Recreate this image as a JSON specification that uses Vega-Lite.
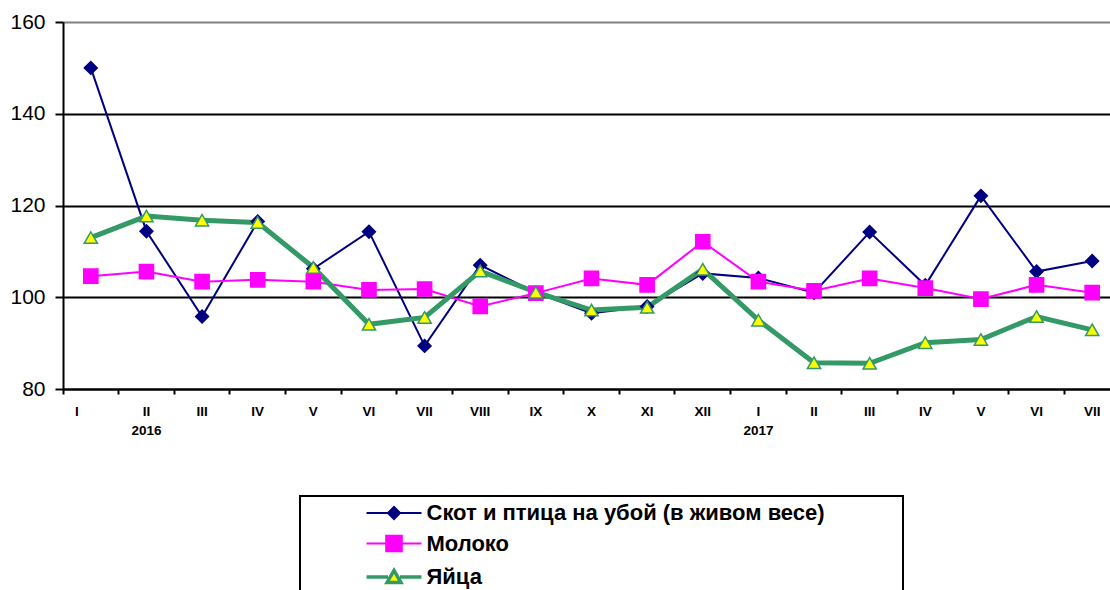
{
  "$schema": "https://vega.github.io/schema/vega-lite/v6.json",
  "width": 1047,
  "height": 367,
  "autosize": {"type": "none"},
  "padding": {"left": 63, "top": 22, "right": 0, "bottom": 201},
  "background": "white",
  "config": {"view": {"stroke": null}, "font": "Liberation Sans", "legend": {"strokeWidth": 2}},
  "data": {"values": [
    {"m": "2016-I", "s": "Скот и птица на убой (в живом весе)", "v": 150.0},
    {"m": "2016-II", "s": "Скот и птица на убой (в живом весе)", "v": 114.4},
    {"m": "2016-III", "s": "Скот и птица на убой (в живом весе)", "v": 95.8},
    {"m": "2016-IV", "s": "Скот и птица на убой (в живом весе)", "v": 116.5},
    {"m": "2016-V", "s": "Скот и птица на убой (в живом весе)", "v": 106.2},
    {"m": "2016-VI", "s": "Скот и птица на убой (в живом весе)", "v": 114.3},
    {"m": "2016-VII", "s": "Скот и птица на убой (в живом весе)", "v": 89.4},
    {"m": "2016-VIII", "s": "Скот и птица на убой (в живом весе)", "v": 107.0},
    {"m": "2016-IX", "s": "Скот и птица на убой (в живом весе)", "v": 101.0},
    {"m": "2016-X", "s": "Скот и птица на убой (в живом весе)", "v": 96.5},
    {"m": "2016-XI", "s": "Скот и птица на убой (в живом весе)", "v": 98.0},
    {"m": "2016-XII", "s": "Скот и птица на убой (в живом весе)", "v": 105.2},
    {"m": "2017-I", "s": "Скот и птица на убой (в живом весе)", "v": 104.2},
    {"m": "2017-II", "s": "Скот и птица на убой (в живом весе)", "v": 101.0},
    {"m": "2017-III", "s": "Скот и птица на убой (в живом весе)", "v": 114.2},
    {"m": "2017-IV", "s": "Скот и птица на убой (в живом весе)", "v": 102.6},
    {"m": "2017-V", "s": "Скот и птица на убой (в живом весе)", "v": 122.1},
    {"m": "2017-VI", "s": "Скот и птица на убой (в живом весе)", "v": 105.6},
    {"m": "2017-VII", "s": "Скот и птица на убой (в живом весе)", "v": 107.9},
    {"m": "2016-I", "s": "Молоко", "v": 104.6},
    {"m": "2016-II", "s": "Молоко", "v": 105.6},
    {"m": "2016-III", "s": "Молоко", "v": 103.4},
    {"m": "2016-IV", "s": "Молоко", "v": 103.8},
    {"m": "2016-V", "s": "Молоко", "v": 103.4},
    {"m": "2016-VI", "s": "Молоко", "v": 101.6},
    {"m": "2016-VII", "s": "Молоко", "v": 101.8},
    {"m": "2016-VIII", "s": "Молоко", "v": 98.0},
    {"m": "2016-IX", "s": "Молоко", "v": 100.9},
    {"m": "2016-X", "s": "Молоко", "v": 104.1},
    {"m": "2016-XI", "s": "Молоко", "v": 102.7},
    {"m": "2016-XII", "s": "Молоко", "v": 112.1},
    {"m": "2017-I", "s": "Молоко", "v": 103.4},
    {"m": "2017-II", "s": "Молоко", "v": 101.4},
    {"m": "2017-III", "s": "Молоко", "v": 104.1},
    {"m": "2017-IV", "s": "Молоко", "v": 102.0},
    {"m": "2017-V", "s": "Молоко", "v": 99.6},
    {"m": "2017-VI", "s": "Молоко", "v": 102.7},
    {"m": "2017-VII", "s": "Молоко", "v": 101.0},
    {"m": "2016-I", "s": "Яйца", "v": 113.0},
    {"m": "2016-II", "s": "Яйца", "v": 117.7},
    {"m": "2016-III", "s": "Яйца", "v": 116.8},
    {"m": "2016-IV", "s": "Яйца", "v": 116.3},
    {"m": "2016-V", "s": "Яйца", "v": 106.5},
    {"m": "2016-VI", "s": "Яйца", "v": 94.1},
    {"m": "2016-VII", "s": "Яйца", "v": 95.6},
    {"m": "2016-VIII", "s": "Яйца", "v": 105.7},
    {"m": "2016-IX", "s": "Яйца", "v": 101.1},
    {"m": "2016-X", "s": "Яйца", "v": 97.2},
    {"m": "2016-XI", "s": "Яйца", "v": 97.8},
    {"m": "2016-XII", "s": "Яйца", "v": 106.1},
    {"m": "2017-I", "s": "Яйца", "v": 95.0},
    {"m": "2017-II", "s": "Яйца", "v": 85.7},
    {"m": "2017-III", "s": "Яйца", "v": 85.6},
    {"m": "2017-IV", "s": "Яйца", "v": 90.1},
    {"m": "2017-V", "s": "Яйца", "v": 90.8},
    {"m": "2017-VI", "s": "Яйца", "v": 95.8},
    {"m": "2017-VII", "s": "Яйца", "v": 92.9}
  ]},
  "encoding": {
    "x": {
      "field": "m",
      "type": "nominal",
      "scale": {
        "type": "band",
        "domain": ["2016-I","2016-II","2016-III","2016-IV","2016-V","2016-VI","2016-VII","2016-VIII","2016-IX","2016-X","2016-XI","2016-XII","2017-I","2017-II","2017-III","2017-IV","2017-V","2017-VI","2017-VII"],
        "range": [0, 1057],
        "paddingInner": 0,
        "paddingOuter": 0
      },
      "axis": {
        "title": null,
        "bandPosition": 0,
        "labelExpr": "datum.value === '2016-II' ? ['II', '2016'] : datum.value === '2017-I' ? ['I', '2017'] : split(datum.value, '-')[1]",
        "labelFont": "Liberation Sans",
        "labelFontSize": 13.5,
        "labelFontWeight": "bold",
        "labelColor": "black",
        "labelAngle": 0,
        "labelPadding": 10,
        "labelLineHeight": 19,
        "labelOffset": {"condition": {"test": "datum.value === '2016-I'", "value": -14}, "value": 0},
        "labelOverlap": false,
        "labelBound": false,
        "tickColor": "black",
        "tickWidth": 2,
        "tickSize": 5,
        "domainColor": "black",
        "domainWidth": 2,
        "grid": false
      }
    },
    "y": {
      "field": "v",
      "type": "quantitative",
      "scale": {"domain": [80, 160], "nice": false, "zero": false},
      "axis": {
        "title": null,
        "values": [80, 100, 120, 140, 160],
        "labelFont": "Liberation Sans",
        "labelFontSize": 21,
        "labelColor": "black",
        "labelPadding": 10,
        "tickColor": "black",
        "tickWidth": 2,
        "tickSize": 8,
        "domainColor": "black",
        "domainWidth": 2,
        "grid": true,
        "gridColor": {"condition": {"test": "datum.value === 160", "value": "#808080"}, "value": "black"},
        "gridWidth": 2
      }
    },
    "stroke": {
      "field": "s",
      "type": "nominal",
      "scale": {
        "domain": ["Скот и птица на убой (в живом весе)", "Молоко", "Яйца"],
        "range": ["#000080", "#FF00FF", "#339966"]
      },
      "legend": {
        "orient": "none",
        "legendX": 237,
        "legendY": 474,
        "title": null,
        "strokeColor": "black",
        "fillColor": "white",
        "padding": 6,
        "symbolSize": 144,
        "symbolOffset": 77,
        "labelOffset": 21.5,
        "labelFont": "Liberation Sans",
        "labelFontSize": 22,
        "labelFontWeight": "bold",
        "labelColor": "black",
        "labelLimit": 2000,
        "rowPadding": 7.5,
        "symbolOpacity": 1,
        "symbolType": {"expr": "datum.value === 'Молоко' ? 'M-4.58,0H4.58M-1.3,-1.3H1.3V1.3H-1.3ZM82.6,0' : datum.value === 'Яйца' ? 'M-4.58,0H-1M1,0H4.58M0,-1.1L1.15,0.9H-1.15ZM82.6,0' : 'M-4.58,0H4.58M-1,0L0,-1L1,0L0,1ZM82.6,0'"},
        "symbolFillColor": {"expr": "datum.value === 'Молоко' ? '#FF00FF' : datum.value === 'Яйца' ? '#FFFF00' : '#000080'"},
        "symbolStrokeWidth": {"expr": "datum.value === 'Яйца' ? 3.5 : 2"}
      }
    }
  },
  "layer": [
    {
      "mark": {"type": "line"},
      "encoding": {
        "strokeWidth": {"condition": {"test": "datum.s === 'Яйца'", "value": 5}, "value": 2}
      }
    },
    {
      "mark": {"type": "point", "filled": true, "opacity": 1, "strokeWidth": 1.5},
      "encoding": {
        "shape": {
          "condition": [
            {"test": "datum.s === 'Молоко'", "value": "square"},
            {"test": "datum.s === 'Яйца'", "value": "triangle-up"}
          ],
          "value": "diamond"
        },
        "fill": {
          "field": "s",
          "type": "nominal",
          "scale": {
            "domain": ["Молоко", "Скот и птица на убой (в живом весе)", "Яйца"],
            "range": ["#FF00FF", "#000080", "#FFFF00"]
          },
          "legend": null
        },
        "size": {
          "condition": [
            {"test": "datum.s === 'Молоко'", "value": 200},
            {"test": "datum.s === 'Яйца'", "value": 175}
          ],
          "value": 165
        }
      }
    }
  ]
}
